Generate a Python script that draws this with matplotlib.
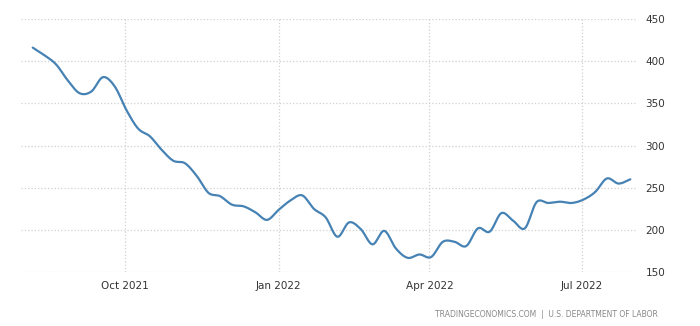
import matplotlib
matplotlib.use("Agg")
import matplotlib.pyplot as plt
import matplotlib.dates as mdates
import numpy as np
import datetime as dt

# weekly values (thousands), week ending Saturday
start = dt.date(2021, 8, 7)
values = [416, 407, 396, 377, 362, 364, 381, 370, 342, 320,
          311, 295, 282, 279, 264, 244, 240, 230, 228, 221,
          212, 224, 235, 241, 225, 215, 192, 209, 201, 183,
          199, 178, 167, 171, 168, 186, 186, 181, 202, 198,
          220, 211, 202, 233, 232, 233.5, 232, 236, 245, 261,
          255, 260]
dates = [start + dt.timedelta(weeks=i) for i in range(len(values))]

y_ticks = [150, 200, 250, 300, 350, 400, 450]
x_ticks = [dt.date(2021, 10, 1), dt.date(2022, 1, 1), dt.date(2022, 4, 1), dt.date(2022, 7, 1)]
x_labels = ["Oct 2021", "Jan 2022", "Apr 2022", "Jul 2022"]


def smooth(x, y, n=12):
    # catmull-rom spline through the points, just for a rounded line
    x = np.asarray(x, float)
    y = np.asarray(y, float)
    px = np.concatenate([[2 * x[0] - x[1]], x, [2 * x[-1] - x[-2]]])
    py = np.concatenate([[2 * y[0] - y[1]], y, [2 * y[-1] - y[-2]]])
    t = np.linspace(0, 1, n, endpoint=False)
    xs, ys = [], []
    for i in range(1, len(px) - 2):
        for p, out in ((px, xs), (py, ys)):
            p0, p1, p2, p3 = p[i - 1], p[i], p[i + 1], p[i + 2]
            out.extend(0.5 * (2 * p1 + (-p0 + p2) * t
                              + (2 * p0 - 5 * p1 + 4 * p2 - p3) * t ** 2
                              + (-p0 + 3 * p1 - 3 * p2 + p3) * t ** 3))
    xs.append(x[-1])
    ys.append(y[-1])
    return np.array(xs), np.array(ys)


xnum = mdates.date2num(dates)
sx, sy = smooth(xnum, values)

fig = plt.figure(figsize=(7, 3.26), dpi=100)
ax = fig.add_axes([0.03, 0.165, 0.88, 0.777])

ax.plot(sx, sy, color="#4682b4", lw=1.6, solid_capstyle="round")

ax.set_ylim(150, 450)
ax.set_xlim(mdates.date2num(dt.date(2021, 7, 31)), mdates.date2num(dt.date(2022, 8, 3)))
ax.set_yticks(y_ticks)
ax.set_xticks(mdates.date2num(x_ticks))
ax.set_xticklabels(x_labels)
ax.yaxis.tick_right()
ax.tick_params(axis="both", length=0, labelsize=7.5, colors="#333333")
ax.tick_params(axis="y", pad=6)
ax.tick_params(axis="x", pad=6)
ax.grid(True, color="#d0d0d0", linestyle=":", linewidth=0.9)
for s in ax.spines.values():
    s.set_visible(False)

fig.text(0.94, 0.035, "TRADINGECONOMICS.COM  |  U.S. DEPARTMENT OF LABOR",
         ha="right", va="center", fontsize=5.5, color="#888888")

fig.savefig("out.png", dpi=100)
